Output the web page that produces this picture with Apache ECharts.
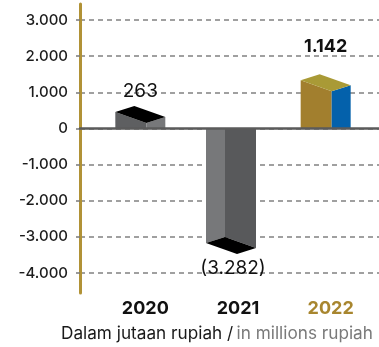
<!DOCTYPE html>
<html>
<head>
<meta charset="utf-8">
<script src="https://cdn.jsdelivr.net/npm/echarts@6/dist/echarts.min.js"></script>
<style>
  html, body { margin: 0; padding: 0; background: #ffffff; }
  #chart { width: 379px; height: 347px; }
</style>
</head>
<body>
<div id="chart"></div>
<script>
// Net result per year, in millions of rupiah
const years = ['2020', '2021', '2022'];
const netValues = [263, -3282, 1142];
const highlightYear = '2022';

// Value axis ticks
const axisMin = -4000;
const axisMax = 3000;
const axisStep = 1000;

const FONT = 'Inter, "Noto Sans", sans-serif';
const GOLD = '#b19236';

// Face colours of each block: long face, short face, cap
const blockColours = {
  '2020': { long: '#5e5f61', short: '#77787a', cap: '#000000' },
  '2021': { long: '#58595b', short: '#77787a', cap: '#000000' },
  '2022': { long: '#a27f2e', short: '#0461ab', cap: '#a99a36' }
};

// Box projection: long edge and short edge vectors of the block's cap
const LONG = [31, 11];
const SHORT = [19, -6];
const BOX_W = LONG[0] + SHORT[0];

function groupThousands(n) {
  return String(Math.abs(n)).replace(/\B(?=(\d{3})+(?!\d))/g, '.');
}
function tickText(v) {
  return (v < 0 ? '-' : '') + groupThousands(v);
}
function valueText(v) {
  return v < 0 ? '(' + groupThousands(v) + ')' : groupThousands(v);
}

function add(p, q) { return [p[0] + q[0], p[1] + q[1]]; }

function renderBlock(params, api) {
  const idx = api.value(0);
  const v = api.value(1);
  const year = years[idx];
  const col = blockColours[year];
  const base = api.coord([idx, 0]);
  const end = api.coord([idx, v]);
  const cx = base[0];
  const by = base[1];
  const yv = end[1];
  const hl = year === highlightYear;
  const children = [];

  if (v >= 0) {
    const A = [cx - BOX_W / 2, yv - 7];
    const AL = add(A, LONG);
    const AS = add(A, SHORT);
    const ASL = add(AL, SHORT);
    children.push({ type: 'polygon', shape: { points: [[A[0], by], A, AL, [AL[0], by]] },
      style: { fill: col.long } });
    children.push({ type: 'polygon', shape: { points: [[AL[0], by], AL, ASL, [ASL[0], by]] },
      style: { fill: col.short } });
    children.push({ type: 'polygon', shape: { points: [A, AS, ASL, AL] },
      style: { fill: col.cap } });
  } else {
    const A = [cx - BOX_W / 2 - 2, yv - 4];
    const AL = add(A, LONG);
    const AS = add(A, SHORT);
    const ASL = add(AS, LONG);
    children.push({ type: 'polygon', shape: { points: [[A[0], by], A, AS, [AS[0], by]] },
      style: { fill: col.short } });
    children.push({ type: 'polygon', shape: { points: [[AS[0], by], AS, ASL, [ASL[0], by]] },
      style: { fill: col.long } });
    children.push({ type: 'polygon', shape: { points: [A, AS, ASL, AL] },
      style: { fill: col.cap } });
  }

  const labelY = v >= 0 ? yv - (hl ? 41 : 28) : yv + 21;
  children.push({
    type: 'text',
    x: cx,
    y: labelY,
    style: {
      text: valueText(v),
      fill: '#111111',
      fontFamily: FONT,
      fontSize: hl ? 18 : 19,
      fontWeight: hl ? 'bold' : 'normal',
      align: 'center',
      verticalAlign: 'middle'
    }
  });
  return { type: 'group', children: children };
}

const chart = echarts.init(document.getElementById('chart'), null, { renderer: 'canvas' });

chart.setOption({
  animation: false,
  backgroundColor: '#ffffff',
  textStyle: { fontFamily: FONT },
  grid: [
    { left: 80, right: 0, top: 4, bottom: 54 },
    { left: 80, right: 0, top: 20, bottom: 74 },
    { left: 94, right: 7, top: 20, bottom: 74 }
  ],
  xAxis: [
    { gridIndex: 0, type: 'value', show: false },
    {
      gridIndex: 1, type: 'value', min: 0, max: 1, z: 3,
      axisLine: { show: true, onZero: true, lineStyle: { color: '#5b5b5b', width: 2.5 } },
      axisTick: { show: false }, axisLabel: { show: false }, splitLine: { show: false }
    },
    {
      gridIndex: 2, type: 'category', data: years,
      axisLine: { show: false, onZero: false }, axisTick: { show: false },
      axisLabel: {
        margin: 27,
        padding: [0, 0, 0, 10],
        formatter: y => (y === highlightYear ? '{hl|' + y + '}' : '{n|' + y + '}'),
        rich: {
          n: { fontFamily: FONT, fontSize: 18, fontWeight: 'bold', color: '#111111' },
          hl: { fontFamily: FONT, fontSize: 18, fontWeight: 'bold', color: '#a8862f' }
        }
      }
    }
  ],
  yAxis: [
    {
      gridIndex: 0, type: 'value', min: -1, max: 1,
      axisLine: { show: true, onZero: false, lineStyle: { color: GOLD, width: 3 } },
      axisTick: { show: false }, axisLabel: { show: false }, splitLine: { show: false }
    },
    {
      gridIndex: 1, type: 'value', min: axisMin, max: axisMax, interval: axisStep,
      axisLine: { show: false },
      axisTick: { show: true, length: 4, lineStyle: { color: '#7a7a7a', width: 1.5 } },
      axisLabel: {
        margin: 12, formatter: tickText,
        fontFamily: FONT, fontSize: 15, fontWeight: 500, color: '#1c1c1c'
      },
      splitLine: { show: true, lineStyle: { type: [5, 4], color: '#818181', width: 1.5 } }
    },
    { gridIndex: 2, type: 'value', min: axisMin, max: axisMax, show: false }
  ],
  series: [{
    type: 'custom',
    coordinateSystem: 'cartesian2d',
    xAxisIndex: 2,
    yAxisIndex: 2,
    silent: true,
    data: netValues.map((v, i) => [i, v]),
    renderItem: renderBlock
  }],
  graphic: [{
    type: 'text',
    left: 61,
    top: 325,
    silent: true,
    style: {
      text: '{a|Dalam jutaan rupiah /} {b|in millions rupiah}',
      rich: {
        a: { fontFamily: FONT, fontSize: 17.2, fill: '#1a1a1a' },
        b: { fontFamily: FONT, fontSize: 17.2, fill: '#7a7a7a' }
      }
    }
  }]
});
</script>
</body>
</html>
